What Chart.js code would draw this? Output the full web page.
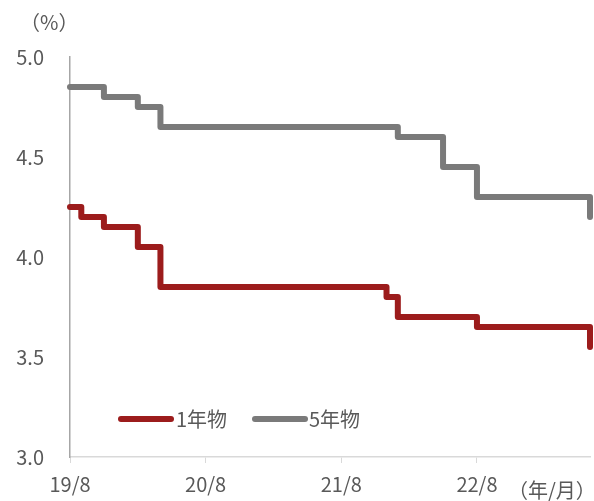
<!DOCTYPE html>
<html lang="ja">
<head>
<meta charset="utf-8">
<script src="https://cdn.jsdelivr.net/npm/chart.js@4/dist/chart.umd.min.js"></script>
<style>
  html, body { margin: 0; padding: 0; background: #ffffff; }
  #wrap { position: relative; width: 594px; height: 501px; }
</style>
</head>
<body>
<div id="wrap"><canvas id="c" width="594" height="501"></canvas></div>
<script>
// Monthly categories 2019/8 .. 2023/6
const months = [
  '2019/8','2019/9','2019/10','2019/11','2019/12',
  '2020/1','2020/2','2020/3','2020/4','2020/5','2020/6','2020/7','2020/8','2020/9','2020/10','2020/11','2020/12',
  '2021/1','2021/2','2021/3','2021/4','2021/5','2021/6','2021/7','2021/8','2021/9','2021/10','2021/11','2021/12',
  '2022/1','2022/2','2022/3','2022/4','2022/5','2022/6','2022/7','2022/8','2022/9','2022/10','2022/11','2022/12',
  '2023/1','2023/2','2023/3','2023/4','2023/5','2023/6'
];

// 1-year rate (%)
const rate1y = [
  4.25, 4.20, 4.20, 4.15, 4.15,
  4.15, 4.05, 4.05, 3.85, 3.85, 3.85, 3.85, 3.85, 3.85, 3.85, 3.85, 3.85,
  3.85, 3.85, 3.85, 3.85, 3.85, 3.85, 3.85, 3.85, 3.85, 3.85, 3.85, 3.80,
  3.70, 3.70, 3.70, 3.70, 3.70, 3.70, 3.70, 3.65, 3.65, 3.65, 3.65, 3.65,
  3.65, 3.65, 3.65, 3.65, 3.65, 3.55
];

// 5-year rate (%)
const rate5y = [
  4.85, 4.85, 4.85, 4.80, 4.80,
  4.80, 4.75, 4.75, 4.65, 4.65, 4.65, 4.65, 4.65, 4.65, 4.65, 4.65, 4.65,
  4.65, 4.65, 4.65, 4.65, 4.65, 4.65, 4.65, 4.65, 4.65, 4.65, 4.65, 4.65,
  4.60, 4.60, 4.60, 4.60, 4.45, 4.45, 4.45, 4.30, 4.30, 4.30, 4.30, 4.30,
  4.30, 4.30, 4.30, 4.30, 4.30, 4.20
];

const seriesNames = ['1年物', '5年物'];
const tickMonths = ['2019/8', '2020/8', '2021/8', '2022/8'];
const tickTexts = ['19/8', '20/8', '21/8', '22/8'];

const FONT = '"Noto Sans CJK JP", "Noto Sans", sans-serif';
const TEXT = '#595959';
const RED = '#9c1c1c';
const GREY = '#7a7a7a';
const LINE_W = 6;

// Extra text: unit labels and an in-plot legend
const annotations = {
  id: 'annotations',
  afterDraw(chart) {
    const ctx = chart.ctx;
    ctx.save();
    ctx.fillStyle = TEXT;
    ctx.font = '20px ' + FONT;
    ctx.textBaseline = 'middle';
    ctx.textAlign = 'left';
    ctx.fillText('（%）', 20, 22);
    ctx.fillText('（年/月）', 508, 490);

    // legend
    const ly = 419;
    const items = [
      { x0: 121, x1: 171, tx: 176, color: chart.data.datasets[0].borderColor, label: chart.data.datasets[0].label },
      { x0: 255, x1: 305, tx: 309, color: chart.data.datasets[1].borderColor, label: chart.data.datasets[1].label }
    ];
    items.forEach(it => {
      ctx.strokeStyle = it.color;
      ctx.lineWidth = LINE_W;
      ctx.lineCap = 'round';
      ctx.beginPath();
      ctx.moveTo(it.x0, ly);
      ctx.lineTo(it.x1, ly);
      ctx.stroke();
      ctx.fillStyle = TEXT;
      ctx.fillText(it.label, it.tx, ly);
    });
    ctx.restore();
  }
};

new Chart(document.getElementById('c'), {
  type: 'line',
  data: {
    labels: months,
    datasets: [
      {
        label: seriesNames[0],
        data: rate1y,
        borderColor: RED,
        backgroundColor: RED,
        borderWidth: LINE_W,
        stepped: true,
        pointRadius: 0,
        borderCapStyle: 'round',
        borderJoinStyle: 'round',
        clip: false
      },
      {
        label: seriesNames[1],
        data: rate5y,
        borderColor: GREY,
        backgroundColor: GREY,
        borderWidth: LINE_W,
        stepped: true,
        pointRadius: 0,
        borderCapStyle: 'round',
        borderJoinStyle: 'round',
        clip: false
      }
    ]
  },
  options: {
    responsive: false,
    animation: false,
    devicePixelRatio: 1,
    layout: { padding: { left: 0, right: 0, top: 57, bottom: 0 } },
    plugins: {
      legend: { display: false },
      tooltip: { enabled: false }
    },
    scales: {
      x: {
        type: 'category',
        offset: false,
        afterFit(scale) { scale.height = 44; scale.paddingRight = 4; },
        border: { display: true, color: '#d9d9d9', width: 1.5 },
        grid: {
          display: true,
          drawOnChartArea: false,
          drawTicks: true,
          tickLength: 6,
          color(ctx) {
            const lbl = months[ctx.index];
            return tickMonths.includes(lbl) ? '#d9d9d9' : 'rgba(0,0,0,0)';
          }
        },
        ticks: {
          autoSkip: false,
          maxRotation: 0,
          padding: 9,
          color: TEXT,
          font: { family: FONT, size: 20 },
          callback(value) {
            const lbl = this.getLabelForValue(value);
            const k = tickMonths.indexOf(lbl);
            return k >= 0 ? tickTexts[k] : '';
          }
        }
      },
      y: {
        min: 3.0,
        max: 5.0,
        afterFit(scale) { scale.width = 70; },
        border: { display: true, color: '#a6a6a6', width: 1.5 },
        grid: { display: false, drawTicks: false },
        ticks: {
          stepSize: 0.5,
          padding: 26,
          color: TEXT,
          font: { family: FONT, size: 20 },
          callback(v) { return v.toFixed(1); }
        }
      }
    }
  },
  plugins: [annotations]
});
</script>
</body>
</html>
